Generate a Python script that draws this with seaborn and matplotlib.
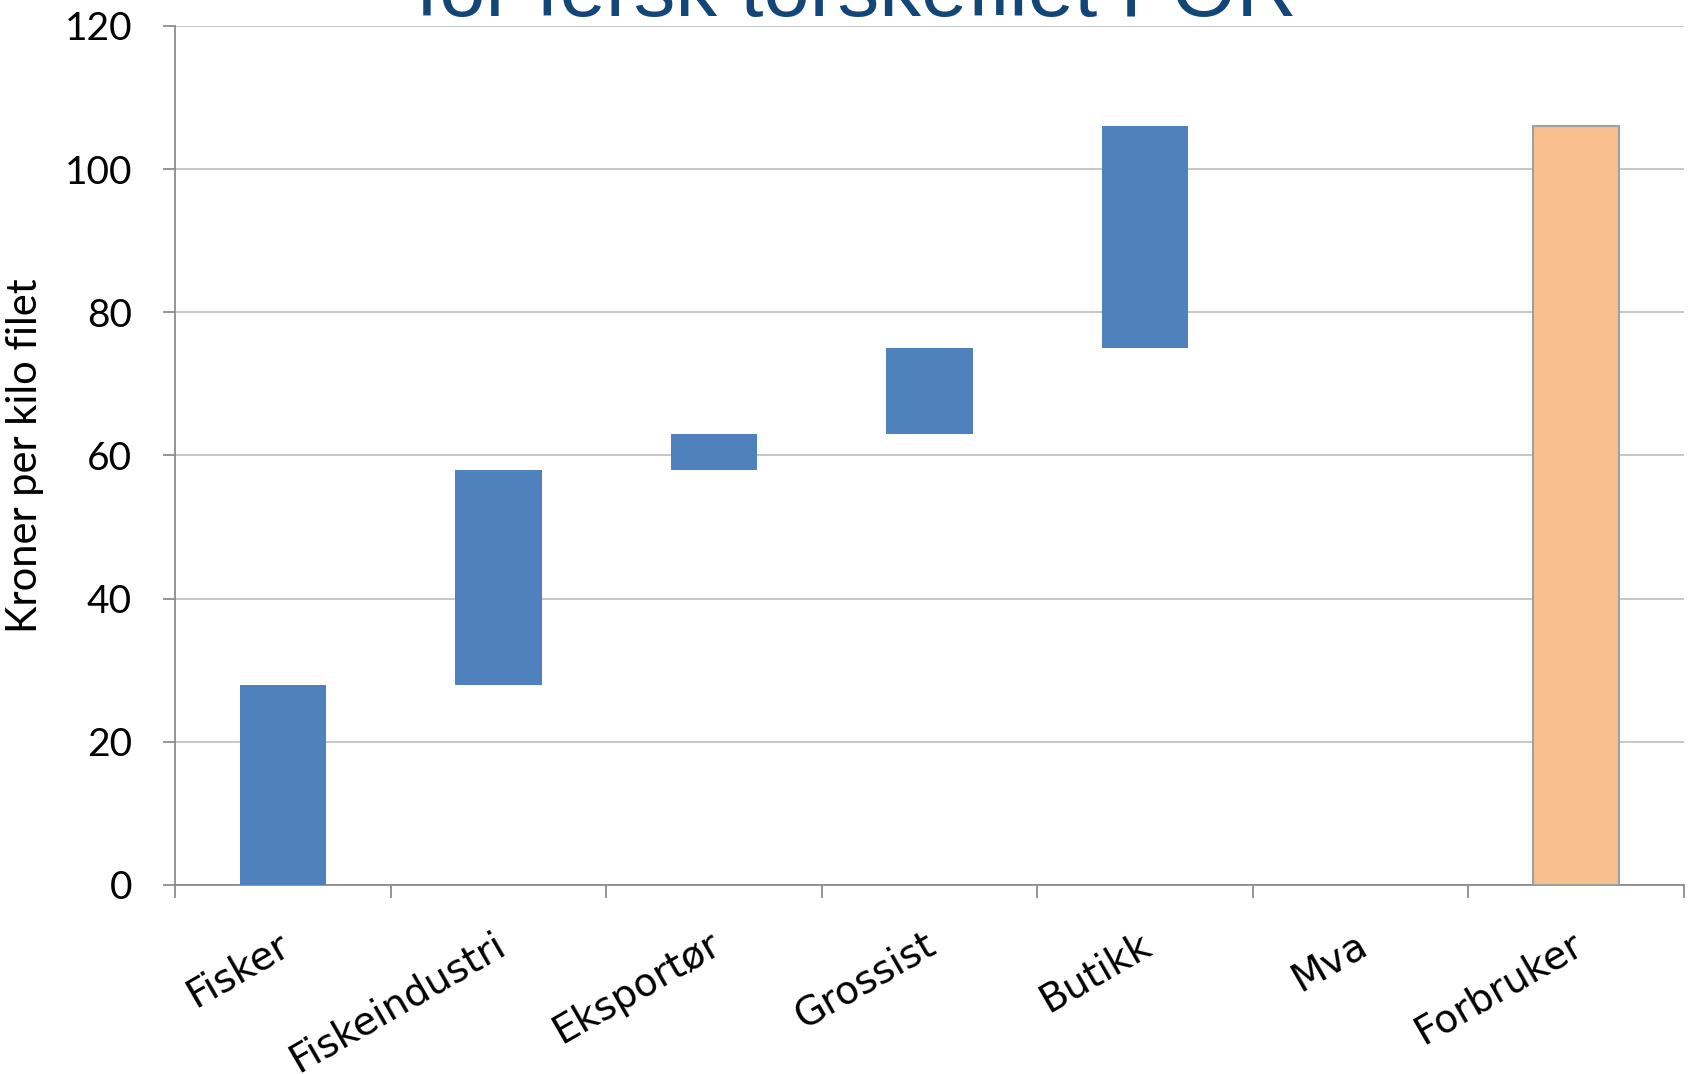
import matplotlib
matplotlib.use("Agg")
import matplotlib.pyplot as plt
import matplotlib.transforms as mtransforms
import seaborn as sns
import pandas as pd

# -------------------------
# Data (kroner per kilo filet)
# -------------------------
categories = ["Fisker", "Fiskeindustri", "Eksportør", "Grossist",
              "Butikk", "Mva", "Forbruker"]
bottoms = [0, 28, 58, 63, 75, 106, 0]
tops = [28, 58, 63, 75, 106, 106, 106]
y_ticks = [0, 20, 40, 60, 80, 100, 120]

df = pd.DataFrame({
    "ledd": categories,
    "hoyde": [t - b for t, b in zip(tops, bottoms)],
})

sns.set_style("white")

fig = plt.figure(figsize=(16.9, 10.74), dpi=100)
ax = fig.add_axes([0.1036, 0.176, 0.8928, 0.7998])

sns.barplot(
    data=df, x="ledd", y="hoyde", order=categories,
    bottom=bottoms, width=0.4, color="#4F81BD",
    saturation=1, errorbar=None, linewidth=0, ax=ax, zorder=3
)

# last bar (Forbruker) is the total
total = ax.patches[-1]
total.set_facecolor("#F9BF8F")
total.set_edgecolor("#A0A0A0")
total.set_linewidth(1.5)

ax.set_xlim(-0.5, len(categories) - 0.5)
ax.set_ylim(0, 120)
ax.set_yticks(y_ticks)
ax.yaxis.grid(True, color="#BEBEBE", linewidth=1.2, zorder=0)
ax.set_axisbelow(True)

for side in ["top", "right"]:
    ax.spines[side].set_visible(False)
for side in ["left", "bottom"]:
    ax.spines[side].set_color("#8C8C8C")
    ax.spines[side].set_linewidth(1.3)

# ticks between categories
ax.set_xticks([i - 0.5 for i in range(len(categories) + 1)], minor=True)
ax.tick_params(axis="x", which="minor", length=9, width=1.3,
               color="#8C8C8C", direction="out", bottom=True)
ax.tick_params(axis="x", which="major", length=0, pad=29)
ax.tick_params(axis="y", length=9, width=1.3, color="#8C8C8C",
               direction="out", left=True, pad=22)

ax.set_xticks(range(len(categories)))
ax.set_xticklabels(categories, rotation=30, ha="right", va="top",
                   rotation_mode="anchor", fontsize=28,
                   family="DejaVu Sans", color="black")
shift = mtransforms.ScaledTranslation(-6 / 100, 0, fig.dpi_scale_trans)
for lbl in ax.get_xticklabels():
    lbl.set_transform(lbl.get_transform() + shift)
for lbl in ax.get_yticklabels():
    lbl.set_fontsize(28)
    lbl.set_family("Lato")
    lbl.set_color("black")

ax.set_xlabel("")
ax.set_ylabel("Kroner per kilo filet", fontsize=30, family="Lato",
              color="black")
ax.yaxis.set_label_coords(-0.087, 0.5)

fig.text(0.5065, 0.985, "for fersk torskefilet FOR", fontsize=60,
         color="#124578", family="Liberation Sans",
         ha="center", va="baseline")

fig.savefig("out.png", dpi=100, facecolor="white")
plt.close(fig)
